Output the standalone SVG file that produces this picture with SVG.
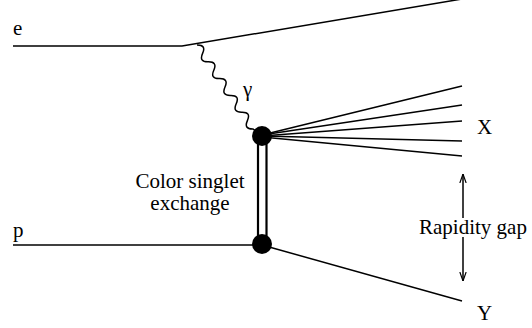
<svg xmlns="http://www.w3.org/2000/svg" width="532" height="328" viewBox="0 0 532 328">
<defs>
<style>
.ln{stroke:#000;stroke-width:1.5;fill:none}
.dbl{stroke:#000;stroke-width:2.2;fill:none}
.blob{fill:#000}
text{font-family:'Liberation Serif','DejaVu Serif',serif;font-size:21px;fill:#000}
</style>
<marker id="arr" viewBox="0 0 10 10" refX="10" refY="5" markerWidth="9" markerHeight="9" markerUnits="userSpaceOnUse" orient="auto">
<path d="M0,1.5 L10,5 L0,8.5" fill="none" stroke="#000" stroke-width="1.3"/>
</marker>
</defs>
<rect width="532" height="328" fill="#fff"/>
<g id="connectors">
<path class="ln" d="M13,46 L182,46 L462,-1"/>
<path class="ln" d="M197,45 Q206.5,44.8 202.6,53.4 T208.2,61.8 T213.8,70.2 T219.4,78.6 T225,87 T230.6,95.4 T236.2,103.8 T241.8,112.2 T247.4,120.6 T253,129 Q255,131 260,132"/>
<g class="ln">
<line x1="262" y1="135" x2="462" y2="86"/>
<line x1="262" y1="135" x2="462" y2="105"/>
<line x1="262" y1="136" x2="462" y2="121"/>
<line x1="262" y1="136" x2="462" y2="141"/>
<line x1="262" y1="137" x2="462" y2="156"/>
</g>
<line class="dbl" x1="258" y1="136" x2="258" y2="244"/>
<line class="dbl" x1="266.5" y1="136" x2="266.5" y2="244"/>
<line class="ln" x1="13" y1="245" x2="262" y2="245"/>
<line class="ln" x1="262" y1="245" x2="462" y2="301"/>
<line class="ln" x1="463" y1="218" x2="463" y2="174" marker-end="url(#arr)"/>
<line class="ln" x1="463" y1="237" x2="463" y2="281" marker-end="url(#arr)"/>
</g>
<g id="top-vertex"><circle class="blob" cx="262" cy="136" r="10"/></g>
<g id="bottom-vertex"><circle class="blob" cx="262" cy="244" r="10"/></g>
<g id="labels" font-family="Liberation Serif, serif">
<text x="13" y="35">e</text>
<text x="243" y="96">γ</text>
<text x="477" y="134">X</text>
<text x="13" y="237">p</text>
<text x="477" y="320">Y</text>
<text x="190" y="188" text-anchor="middle">Color singlet</text>
<text x="190" y="210" text-anchor="middle">exchange</text>
<text x="419" y="234">Rapidity gap</text>
</g>
</svg>
